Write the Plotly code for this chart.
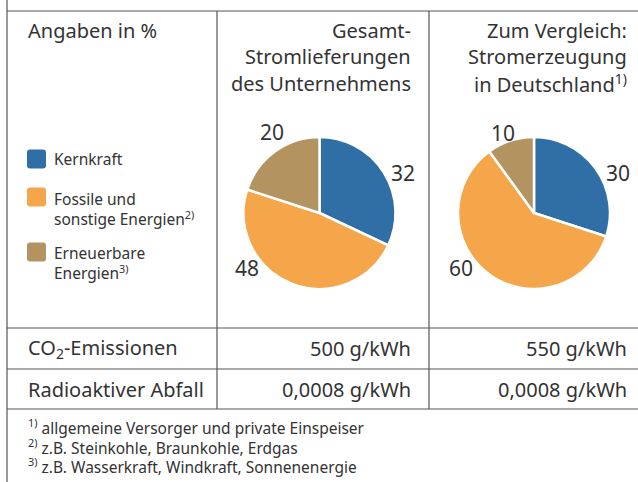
import plotly.graph_objects as go

W, H = 638, 482

# ---------------- data ----------------
categories = ["Kernkraft", "Fossile und<br>sonstige Energien<sup>2)</sup>", "Erneuerbare<br>Energien<sup>3)</sup>"]
colors = ["#2f6fa6", "#f5a64a", "#b3935f"]
unternehmen = [32, 48, 20]
deutschland = [30, 60, 10]
column_titles = [["Gesamt-", "Stromlieferungen", "des Unternehmens"],
                 ["Zum Vergleich:", "Stromerzeugung", "in Deutschland<sup>1)</sup>"]]
row_labels = ["CO<sub>2</sub>-Emissionen", "Radioaktiver Abfall"]
co2_values = ["500 g/kWh", "550 g/kWh"]
abfall_values = ["0,0008 g/kWh", "0,0008 g/kWh"]
footnotes = ["<sup>1)</sup> allgemeine Versorger und private Einspeiser",
             "<sup>2)</sup> z.B. Steinkohle, Braunkohle, Erdgas",
             "<sup>3)</sup> z.B. Wasserkraft, Windkraft, Sonnenenergie"]

FONT = "Noto Sans"
TXT = "#333333"
LINE = "#555555"


def px(x):
    return x / W


def py(y):
    return 1 - y / H


fig = go.Figure()

# pies
pie_centers = [(319.5, 213), (534, 213)]
R = 76
for vals, (cx, cy), name in zip([unternehmen, deutschland], pie_centers, ["Unternehmen", "Deutschland"]):
    fig.add_trace(go.Pie(
        values=vals, labels=["Kernkraft", "Fossile und sonstige Energien", "Erneuerbare Energien"],
        name=name, sort=False, direction="clockwise", rotation=0,
        marker=dict(colors=colors, line=dict(color="white", width=2.5)),
        textinfo="none", hoverinfo="label+value", showlegend=False,
        domain=dict(x=[px(cx - R), px(cx + R)], y=[py(cy + R), py(cy - R)]),
    ))

shapes = []
def line(x0, y0, x1, y1):
    shapes.append(dict(type="line", xref="paper", yref="paper",
                       x0=px(x0), y0=py(y0), x1=px(x1), y1=py(y1),
                       line=dict(color=LINE, width=1.2)))

# table lines
line(7, 0, 7, H)
line(7, 11, W, 11)
line(217, 11, 217, 409)
line(429, 11, 429, 409)
line(7, 328, W, 328)
line(7, 369, W, 369)
line(7, 409, W, 409)

annotations = []
def text(x, y, s, size, anchor="left"):
    annotations.append(dict(xref="paper", yref="paper", x=px(x), y=py(y), text=s,
                            showarrow=False, xanchor=anchor, yanchor="middle", align=anchor,
                            font=dict(family=FONT, size=size, color=TXT)))

text(26, 30, "Angaben in %", 20)

col_right = [413, 629]
line_y = [30, 56, 83]
for titles, xr in zip(column_titles, col_right):
    for t, yy in zip(titles, line_y):
        text(xr, yy, t, 20, "right")

# legend
leg_y = [159, 197, 252]
leg_text_y = [159, 209, 263]
for c, lab, yy, ty in zip(colors, categories, leg_y, leg_text_y):
    x0, x1, y0, y1 = 27, 46, yy - 9.5, yy + 9.5
    r = 3
    path = (f"M {px(x0 + r)} {py(y0)} L {px(x1 - r)} {py(y0)} Q {px(x1)} {py(y0)} {px(x1)} {py(y0 + r)} "
            f"L {px(x1)} {py(y1 - r)} Q {px(x1)} {py(y1)} {px(x1 - r)} {py(y1)} "
            f"L {px(x0 + r)} {py(y1)} Q {px(x0)} {py(y1)} {px(x0)} {py(y1 - r)} "
            f"L {px(x0)} {py(y0 + r)} Q {px(x0)} {py(y0)} {px(x0 + r)} {py(y0)} Z")
    shapes.append(dict(type="path", xref="paper", yref="paper", path=path,
                       fillcolor=c, line=dict(width=0)))
    annotations.append(dict(xref="paper", yref="paper", x=px(52), y=py(ty), text=lab,
                            showarrow=False, xanchor="left", yanchor="middle", align="left",
                            font=dict(family=FONT, size=15.5, color=TXT)))

# pie value labels
label_pos = [[(403, 173), (247, 268), (272, 132)],
             [(618, 173), (461, 268), (503, 133)]]
for vals, poss in zip([unternehmen, deutschland], label_pos):
    for v, (lx, ly) in zip(vals, poss):
        text(lx, ly, str(v), 21, "center")

# rows
row_y = [348, 389]
for lab, yy, vals in zip(row_labels, row_y, [co2_values, abfall_values]):
    text(26, yy, lab, 20)
    for v, xr in zip(vals, col_right):
        text(xr, yy, v, 20, "right")

# footnotes
for f, yy in zip(footnotes, [427, 447, 466]):
    text(26, yy, f, 15.5)

fig.update_layout(
    width=W, height=H, margin=dict(l=0, r=0, t=0, b=0),
    paper_bgcolor="white", plot_bgcolor="white",
    shapes=shapes, annotations=annotations, showlegend=False,
)

fig.write_html("out.html", config={"displayModeBar": False},
               post_script="document.body.style.margin='0px';document.body.style.overflow='hidden';")
